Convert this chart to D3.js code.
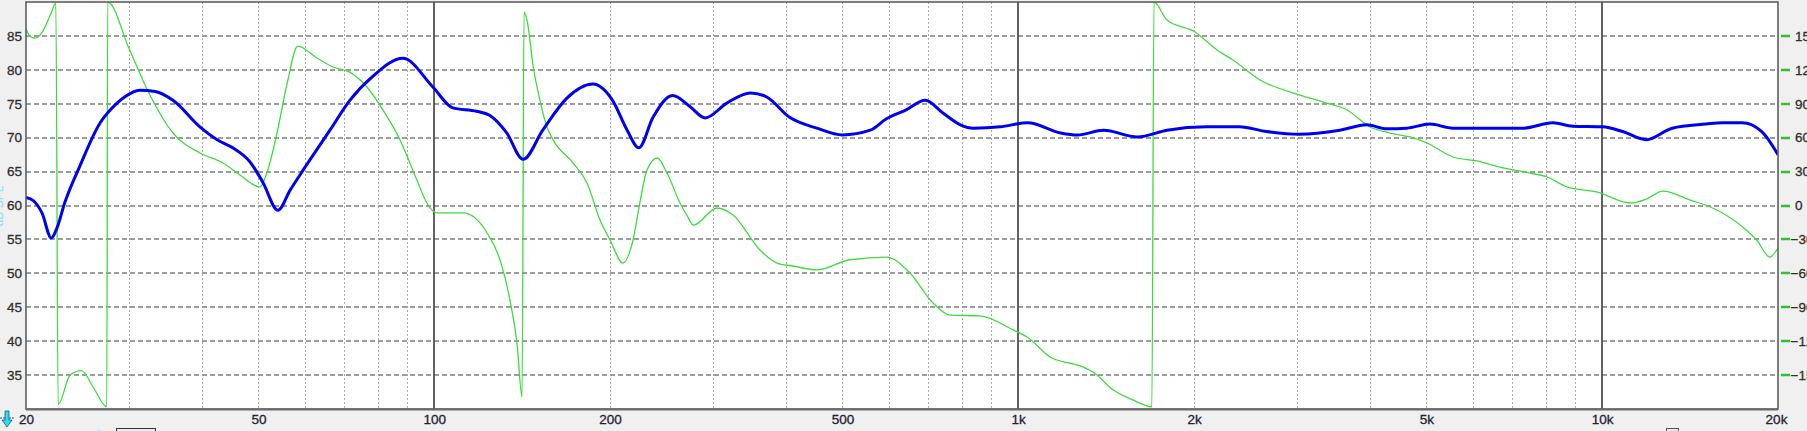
<!DOCTYPE html>
<html>
<head>
<meta charset="utf-8">
<script src="https://cdn.jsdelivr.net/npm/d3@7"></script>
<style>
  html, body { margin: 0; padding: 0; background: #f0f0f0; overflow: hidden; }
  text { font-family: "Liberation Sans", Arial, sans-serif; }
</style>
</head>
<body>
<div id="chart"></div>
<script>
// frequency axis
var freqTicks = [20, 50, 100, 200, 500, 1000, 2000, 5000, 10000, 20000];
var freqTickLabels = ["20", "50", "100", "200", "500", "1k", "2k", "5k", "10k", "20k"];
var minorFreqs = [30, 40, 50, 60, 70, 80, 90, 200, 300, 400, 500, 600, 700, 800, 900,
    2000, 3000, 4000, 5000, 6000, 7000, 8000, 9000];
var decadeFreqs = [100, 1000, 10000];

// level axis (left, dB) and phase axis (right, degrees)
var dbTicks = [35, 40, 45, 50, 55, 60, 65, 70, 75, 80, 85];
var phaseTicks = [150, 120, 90, 60, 30, 0, -30, -60, -90, -120, -150];

// magnitude response
var magFreq = [20, 20.6, 21.3, 22.1, 22.6, 23.3, 24.7, 26.8, 27.9, 29.5, 31.3, 33.3, 35.7,
    39.7, 42.5, 45.2, 48.4, 50.9, 54, 56.7, 58.9, 66.3, 71.7, 78.4, 88.4, 99.4, 107.6,
    118.2, 124.4, 133.1, 142, 153.4, 168.6, 187, 202, 214, 224, 237, 256, 274, 291, 317,
    348, 371, 406, 452, 500, 558, 595, 643, 693, 744, 796, 838, 932, 1038, 1182, 1264,
    1400, 1600, 1798, 2106, 2392, 2662, 3030, 3556, 3952, 4278, 4628, 5070, 5552, 7312,
    8232, 8900, 10020, 10840, 11900, 13180, 15060, 16040, 17360, 18760, 20000];
var magDb = [61.2, 60.7, 58.9, 55.2, 56.7, 60.4, 65.7, 72.2, 74.1, 76.0, 77.0, 76.8, 75.5,
    71.6, 69.7, 68.5, 66.4, 63.4, 59.3, 62.3, 64.5, 71.1, 75.5, 79.0, 81.7, 77.5, 74.4,
    73.9, 73.3, 70.7, 66.8, 71.1, 75.8, 77.9, 75.5, 71.1, 68.5, 73.0, 76.2, 74.6, 72.9, 75.1,
    76.6, 76.0, 73.0, 71.4, 70.4, 71.1, 72.8, 74.1, 75.5, 73.6, 71.9, 71.4, 71.6, 72.2, 70.7, 70.4,
    71.1, 70.1, 71.1, 71.6, 71.6, 70.9, 70.5, 71.1, 71.9, 71.3, 71.4, 72.0, 71.4, 71.4,
    72.2, 71.7, 71.6, 70.9, 69.7, 71.4, 72.0, 72.2, 72.2, 70.9, 67.5];

// phase response (wrapped to +/-180)
var phaseFreq = [20, 20.3, 20.7, 21.3, 22.0, 22.5, 22.7, 23.8, 24.9, 26.05, 27.5, 27.6, 30.1,
    32.6, 35.7, 39.7, 43.5, 46.5, 50.3, 51.7, 53.8, 56.0, 58.4, 63.0, 67.1, 71.7, 76.7, 81.7,
    87.4, 93.4, 97.2, 101.1, 112, 123.2, 129.6, 134.8, 138.6, 141.4, 142.5, 144.2, 147.8,
    151.7, 156, 159.8, 172.9, 182.7, 192.3, 200, 210.6, 219, 225.1, 231.4, 241, 250.4, 263.6,
    271, 278, 305, 324.9, 361.3, 386.4, 411.5, 452.4, 515.3, 595, 652.7, 714.6, 764.2, 860,
    980, 1036, 1134, 1291, 1343, 1453, 1572, 1694, 1708, 1798, 2008, 2190, 2332, 2595, 3038,
    3327, 3657, 4004, 4332, 4687, 5012, 5555, 6105, 6766, 7527, 8048, 8709, 9813, 11179,
    11900, 12700, 14118, 15460, 17400, 18390, 19360, 20000];
var phaseDeg = [156, 150, 148, 153, 168, 179, -176, -150, -146, -160.5, -178, 180, 137.5,
    97.7, 64.1, 46.4, 37.6, 27, 16.4, 28.7, 64, 108, 141, 130.5, 122.5, 118, 104.8, 84.5,
    58, 22.5, 2, -6.6, -6.6, -24.3, -48, -83.6, -121.6, -169.4, 171, 164, 122.5,
    93.3, 69.4, 58, 37.6, 19.9, -12.8, -30.5, -50.9, -30.5, 3, 31.4, 42, 28.7, 2.2,
    -9, -17.3, -2.2, -8.4, -39.4, -50.9, -53.5, -57, -48, -45.6, -59.7, -86.2, -96.9, -97.7,
    -110, -116.3, -134, -142.8, -147.3, -163, -172, -178, 180, 164, 153.4, 137.5, 128.7, 111, 97.7,
    91.5, 84.5, 69.4, 64.1, 60.6, 55.3, 42.9, 39.4, 33.2, 28.7, 25.2, 16.4, 11.9, 2.2,
    5.7, 12.8, 4.9, -2.2, -19, -30.5, -45.6, -37.6];

function init() {
    var w = 1807;
    var h = 431;
    var left = 26, right = 1778, top = 2, bottom = 409;

    var x = d3.scaleLog().domain([20, 20000]).range([left, right]);
    var yDb = d3.scaleLinear().domain([30, 90]).range([bottom, top]);
    var yPh = d3.scaleLinear().domain([-180, 180]).range([bottom, top]);

    var svg = d3.select("#chart")
        .append("svg")
        .attr("width", w)
        .attr("height", h);

    svg.append("defs").append("clipPath")
        .attr("id", "plot")
        .append("rect")
        .attr("x", left).attr("y", top)
        .attr("width", right - left).attr("height", bottom - top);

    svg.append("rect")
        .attr("x", left).attr("y", top)
        .attr("width", right - left).attr("height", bottom - top)
        .attr("fill", "#ffffff");

    // minor vertical grid (dotted)
    svg.selectAll(".vminor")
        .data(minorFreqs)
        .enter()
        .append("line")
        .attr("x1", function (d) { return Math.round(x(d)) + 0.5; })
        .attr("x2", function (d) { return Math.round(x(d)) + 0.5; })
        .attr("y1", top).attr("y2", bottom)
        .attr("stroke", "#a8a8a8")
        .attr("stroke-width", 1)
        .attr("stroke-dasharray", "2,2");

    // horizontal grid (dashed)
    svg.selectAll(".hgrid")
        .data(dbTicks)
        .enter()
        .append("line")
        .attr("x1", left).attr("x2", right)
        .attr("y1", function (d) { return Math.round(yDb(d)); })
        .attr("y2", function (d) { return Math.round(yDb(d)); })
        .attr("stroke", "#9c9c9c")
        .attr("stroke-width", 2)
        .attr("stroke-dasharray", "5,3");

    // decade lines (solid)
    svg.selectAll(".vmajor")
        .data(decadeFreqs)
        .enter()
        .append("line")
        .attr("x1", function (d) { return Math.round(x(d)); })
        .attr("x2", function (d) { return Math.round(x(d)); })
        .attr("y1", top).attr("y2", bottom)
        .attr("stroke", "#3a3a3a")
        .attr("stroke-width", 1.6);

    var plot = svg.append("g").attr("clip-path", "url(#plot)");

    var phaseData = phaseFreq.map(function (f, i) { return [f, phaseDeg[i]]; });
    var magData = magFreq.map(function (f, i) { return [f, magDb[i]]; });

    var phaseLine = d3.line()
        .x(function (d) { return x(d[0]); })
        .y(function (d) { return yPh(d[1]); })
        .curve(d3.curveMonotoneX);

    var magLine = d3.line()
        .x(function (d) { return x(d[0]); })
        .y(function (d) { return yDb(d[1]); })
        .curve(d3.curveMonotoneX);

    plot.append("path")
        .datum(phaseData)
        .attr("d", phaseLine)
        .attr("fill", "none")
        .attr("stroke", "#3ddc3d")
        .attr("stroke-width", 1.3);

    plot.append("path")
        .datum(magData)
        .attr("d", magLine)
        .attr("fill", "none")
        .attr("stroke", "#0000f0")
        .attr("stroke-width", 3)
        .attr("stroke-linejoin", "round");

    // frame
    svg.append("rect")
        .attr("x", left).attr("y", top)
        .attr("width", right - left).attr("height", bottom - top)
        .attr("fill", "none")
        .attr("stroke", "#555555")
        .attr("stroke-width", 1.5);
    svg.append("line")
        .attr("x1", left).attr("x2", right)
        .attr("y1", bottom + 0.5).attr("y2", bottom + 0.5)
        .attr("stroke", "#6a6a6a")
        .attr("stroke-width", 2);

    function styleText(g, col) {
        g.selectAll("text")
            .attr("font-size", 13.5)
            .attr("fill", col)
            .attr("stroke", col)
            .attr("stroke-width", 0.3)
            .attr("font-family", "Liberation Sans, Arial, sans-serif");
    }

    // left axis
    var yAxisL = d3.axisLeft(yDb).tickValues(dbTicks).tickSize(0).tickPadding(4);
    var gl = svg.append("g").attr("transform", "translate(" + left + ",0)").call(yAxisL);
    gl.select(".domain").remove();
    styleText(gl, "#2e2e2e");

    // right axis (phase); minus sign hangs in front of the digits
    var yAxisR = d3.axisRight(yPh).tickValues(phaseTicks).tickSize(0).tickPadding(17);
    var gr = svg.append("g").attr("transform", "translate(" + right + ",0)").call(yAxisR);
    gr.select(".domain").remove();
    styleText(gr, "#2e2e2e");
    gr.selectAll(".tick text").attr("dx", function (d) { return d < 0 ? -4.5 : 0; });

    svg.selectAll(".phtick")
        .data(phaseTicks)
        .enter()
        .append("line")
        .attr("x1", right + 3).attr("x2", right + 12)
        .attr("y1", function (d) { return Math.round(yPh(d)); })
        .attr("y2", function (d) { return Math.round(yPh(d)); })
        .attr("stroke", "#33c033")
        .attr("stroke-width", 2.5);

    // bottom axis
    var xAxis = d3.axisBottom(x).tickValues(freqTicks).tickSize(0).tickPadding(5)
        .tickFormat(function (d, i) { return freqTickLabels[i]; });
    var gb = svg.append("g").attr("transform", "translate(0," + bottom + ")").call(xAxis);
    gb.select(".domain").remove();
    styleText(gb, "#222233");
    gb.selectAll(".tick").filter(function (d) { return d === 20000; })
        .select("text").attr("dx", -2);

    // clipped axis title on the far left
    svg.append("text")
        .attr("transform", "translate(3,206) rotate(-90)")
        .attr("text-anchor", "middle")
        .attr("font-size", 12)
        .attr("fill", "#8fdcf0")
        .text("dB SPL");

    // little cursor icon bottom-left
    var icon = svg.append("g").attr("transform", "translate(0,410)");
    icon.append("line")
        .attr("x1", 0).attr("x2", 15).attr("y1", 8).attr("y2", 8)
        .attr("stroke", "#2040e0").attr("stroke-width", 1.2)
        .attr("stroke-dasharray", "2,1");
    icon.append("path")
        .attr("d", "M5,1 L9,1 L9,10 L12,10 L7,17 L2,10 L5,10 Z")
        .attr("fill", "#30d8f0")
        .attr("stroke", "#106080")
        .attr("stroke-width", 0.8);

    // clipped controls under the axis
    svg.append("rect")
        .attr("x", 97).attr("y", 429).attr("width", 4).attr("height", 6)
        .attr("fill", "#c8f0f8");
    svg.append("rect")
        .attr("x", 116.5).attr("y", 428.5).attr("width", 39).attr("height", 8)
        .attr("fill", "#e4eef6").attr("stroke", "#333333").attr("stroke-width", 1);
    svg.append("text")
        .attr("x", 795).attr("y", 440)
        .attr("font-size", 13)
        .attr("fill", "#404040")
        .text("Frequency  Response  for  SW");
    svg.append("rect")
        .attr("x", 1666.5).attr("y", 428.5).attr("width", 12).attr("height", 8)
        .attr("fill", "#e8e8e8").attr("stroke", "#555555").attr("stroke-width", 1);
    svg.append("text")
        .attr("x", 1684).attr("y", 440)
        .attr("font-size", 13)
        .attr("fill", "#404040")
        .text("Autoscale");
}

window.onload = init;
</script>
</body>
</html>
